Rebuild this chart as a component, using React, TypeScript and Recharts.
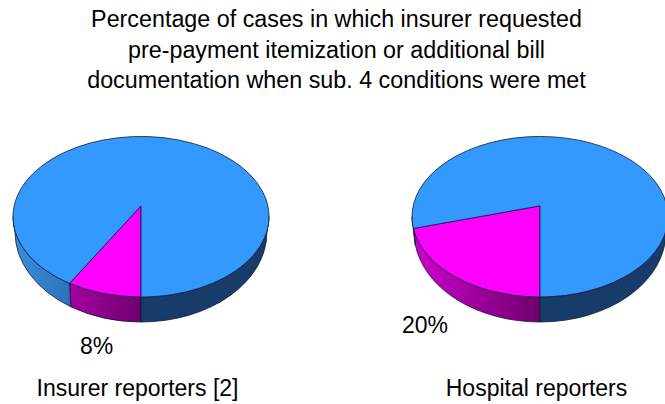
import { PieChart, Pie, Cell } from "recharts";

const title = [
  "Percentage of cases in which insurer requested",
  "pre-payment itemization or additional bill",
  "documentation when sub. 4 conditions were met",
];
const sliceNames = ["Requested", "Not requested"];
const insurerValues = [8, 92];
const hospitalValues = [20, 80];
const pieNames = ["Insurer reporters [2]", "Hospital reporters"];

const toRows = (values: number[]) =>
  values.map((value, i) => ({ name: sliceNames[i], value }));

const TILT = 0.627; // ellipse height / width
const APEX = 0.135; // apex sits above the ellipse centre (perspective)
const SKEW = 0.17; // how much the slice angles get stretched towards the viewer
// lower rim of the wall is a slightly narrower, taller ellipse
const RIM_X = 0.984;
const RIM_DY = 15.3;
const RIM_RY = 90;

const topColors = ["#ff00ff", "#3399ff"];
const wallStops = [
  [
    [0, "#d000d0"],
    [0.5, "#6e006e"],
    [1, "#6e006e"],
  ],
  [
    [0, "#3a8ee0"],
    [0.25, "#2a70b4"],
    [0.5, "#173c6a"],
    [1, "#173c6a"],
  ],
];

// recharts angle -> ellipse parameter, clockwise from the bottom, in radians
function warp(angle: number) {
  const a = ((-90 - angle) * Math.PI) / 180;
  const x = Math.sin(a);
  const y = Math.cos(a);
  const d = 1 - SKEW * y;
  const px = (x * Math.sqrt(1 - SKEW * SKEW)) / d;
  const py = (y - SKEW) / d;
  let t = Math.atan2(px, py);
  if (t < 0) t += 2 * Math.PI;
  if (Math.abs(a - 2 * Math.PI) < 1e-6) t = 2 * Math.PI;
  return t;
}

function PerspectiveSlice(props: any) {
  const { cx, cy, outerRadius, startAngle, endAngle, fill, index, pieId } = props;
  const rx = outerRadius;
  const ry = outerRadius * TILT;
  const apexY = cy - ry * APEX;
  const t1 = warp(startAngle);
  const t2 = warp(endAngle);
  const px = (t: number) => cx - rx * Math.sin(t);
  const py = (t: number) => cy + ry * Math.cos(t);
  const bx = (t: number) => cx - rx * RIM_X * Math.sin(t);
  const by = (t: number) => cy + RIM_DY + RIM_RY * Math.cos(t);

  const large = t2 - t1 > Math.PI ? 1 : 0;
  const top = `M${cx},${apexY}L${px(t1)},${py(t1)}A${rx},${ry} 0 ${large} 1 ${px(t2)},${py(t2)}Z`;

  // walls only show on the front half of the ellipse
  const ranges = [
    [Math.max(t1, 0), Math.min(t2, Math.PI / 2)],
    [Math.max(t1, 1.5 * Math.PI), Math.min(t2, 2 * Math.PI)],
  ].filter(([a, b]) => b > a);
  const walls = ranges.map(
    ([a, b]) =>
      `M${px(a)},${py(a)}A${rx},${ry} 0 0 1 ${px(b)},${py(b)}` +
      `L${bx(b)},${by(b)}A${rx * RIM_X},${RIM_RY} 0 0 0 ${bx(a)},${by(a)}Z`,
  );

  const gradId = `wall-${pieId}-${index}`;
  return (
    <g>
      <defs>
        <linearGradient id={gradId} gradientUnits="userSpaceOnUse" x1={cx - rx} x2={cx + rx} y1={0} y2={0}>
          {wallStops[index].map(([o, c]) => (
            <stop key={String(o)} offset={o as number} stopColor={c as string} />
          ))}
        </linearGradient>
      </defs>
      {walls.map((d) => (
        <path key={d} d={d} fill={`url(#${gradId})`} stroke="#101838" strokeWidth={0.8} />
      ))}
      <path d={top} fill={fill} stroke="#101838" strokeWidth={0.8} />
    </g>
  );
}

const textStyle = { fontFamily: "Liberation Sans, Arial, sans-serif", fontSize: 23, fill: "#000" };
const titleStyle = { ...textStyle, fontSize: 23.3 };

export default function App() {
  return (
    <div style={{ position: "absolute", left: 0, top: 0, width: 665, height: 404, background: "#fff" }}>
      <PieChart width={665} height={404} margin={{ top: 0, right: 0, bottom: 0, left: 0 }}>
        {[insurerValues, hospitalValues].map((values, p) => (
          <Pie
            key={pieNames[p]}
            data={toRows(values)}
            dataKey="value"
            cx={p === 0 ? 141 : 540}
            cy={216.7}
            outerRadius={128}
            startAngle={-90}
            endAngle={-450}
            paddingAngle={0}
            stroke="none"
            isAnimationActive={false}
            shape={(s: any) => <PerspectiveSlice {...s} pieId={p} />}
          >
            {values.map((_, i) => (
              <Cell key={i} fill={topColors[i]} />
            ))}
          </Pie>
        ))}
        {title.map((line, i) => (
          <text key={line} x={336.5} y={26.8 + i * 30.7} textAnchor="middle" style={titleStyle}>
            {line}
          </text>
        ))}
        <text x={96.5} y={354} textAnchor="middle" style={textStyle}>{`${insurerValues[0]}%`}</text>
        <text x={425} y={333.3} textAnchor="middle" style={textStyle}>{`${hospitalValues[0]}%`}</text>
        <text x={137.5} y={396.3} textAnchor="middle" style={textStyle}>{pieNames[0]}</text>
        <text x={536.5} y={396.3} textAnchor="middle" style={textStyle}>{pieNames[1]}</text>
      </PieChart>
    </div>
  );
}
